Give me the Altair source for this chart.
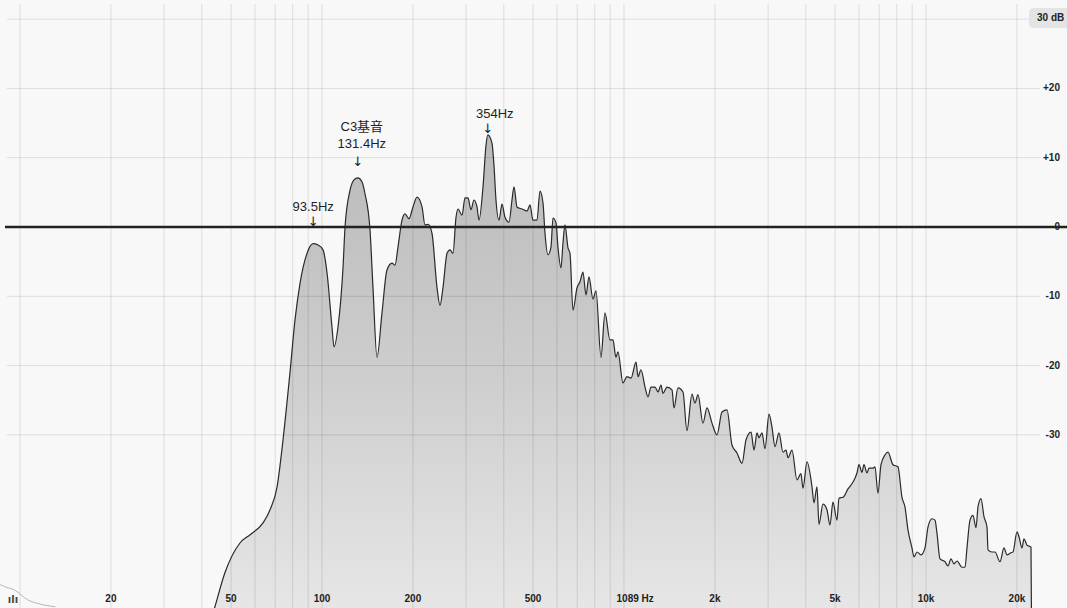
import altair as alt
import pandas as pd

# ---- spectrum trace: frequency (Hz) and level (dB) ----
freq_hz = [
    42.0, 44.2, 47.7, 53.5, 57.8, 63.8, 67.3, 71.0, 74.3, 78.3, 81.4, 84.6, 89.2,
    93.5, 97.0, 100.8, 103.9, 107.9, 109.6, 113.0, 117.4, 119.2, 123.8, 127.6,
    131.4, 135.7, 138.8, 144.2, 147.5, 152.1, 158.0, 164.1, 170.5, 174.5, 178.5,
    184.0, 188.3, 194.1, 200.1, 206.3, 214.4, 219.3, 224.4, 231.3, 240.3, 245.9,
    251.6, 259.4, 265.4, 271.5, 277.8, 282.1, 290.8, 297.5, 304.4, 311.4, 318.6,
    326.0, 331.1, 341.3, 349.2, 354.0, 365.5, 371.1, 376.8, 385.6, 394.5, 403.6,
    416.1, 425.7, 432.3, 442.3, 459.5, 477.3, 488.3, 499.6, 515.1, 527.0, 539.2,
    547.5, 560.2, 573.1, 581.9, 595.4, 604.5, 618.5, 628.0, 637.7, 652.4, 662.5,
    677.8, 698.7, 714.9, 731.4, 748.4, 765.7, 789.4, 807.7, 839.0, 865.0, 898.5,
    919.3, 940.5, 955.0, 992.3, 1023, 1055, 1096, 1113, 1138, 1174, 1201, 1229,
    1267, 1296, 1326, 1346, 1388, 1442, 1464, 1509, 1568, 1616, 1679, 1718, 1758,
    1826, 1883, 1956, 2032, 2111, 2193, 2279, 2367, 2459, 2536, 2634, 2695, 2757,
    2799, 2864, 2930, 3021, 3091, 3162, 3260, 3361, 3439, 3491, 3600, 3739, 3855,
    3914, 4036, 4193, 4257, 4355, 4422, 4559, 4700, 4809, 4920, 5073, 5151, 5311,
    5517, 5731, 5908, 5999, 6138, 6232, 6376, 6474, 6674, 6777, 6934, 7095, 7314,
    7483, 7774, 8076, 8326, 8519, 8716, 8986, 9124, 9338, 9626, 9924, 10153,
    10469, 10711, 10874, 11126, 11558, 11825, 12100, 12380, 12666, 13158, 13462,
    13670, 13986, 14309, 14641, 14866, 15209, 15562, 15922, 16044, 16539, 16922,
    17579, 18124, 18543, 19118, 19411, 20012, 20320, 20789, 21108, 21595, 22264,
    22400,
]
level_db = [
    -58.0, -54.8, -49.9, -45.6, -44.4, -42.7, -40.8, -37.5, -30.7, -21.1, -13.4, -8.1, -3.8,
    -2.4, -2.6, -3.3, -6.6, -14.4, -17.3, -14.4, -5.8, 0.0, 5.3, 6.8,
    7.1, 6.5, 4.8, -0.4, -8.7, -18.8, -12.4, -6.2, -5.2, -5.5, -2.9,
    1.0, 1.9, 1.2, 2.9, 4.3, 2.9, 0.3, 0.4, -0.9, -8.7, -11.3,
    -8.7, -3.8, -3.3, -3.8, 1.4, 2.6, 1.7, 4.2, 4.2, 2.5, 3.9,
    2.9, 1.0, 5.8, 11.8, 13.3, 12.1, 8.9, 3.9, 1.0, 3.3, 1.4,
    0.7, 3.9, 5.8, 2.9, 2.6, 2.3, 3.2, 1.0, 1.0, 5.2, 3.5,
    -0.9, -4.0, -2.9, 1.3, 0.6, -2.9, -5.9, -2.3, 0.3, -3.0, -3.8,
    -12.0, -8.8, -7.9, -6.5, -9.8, -7.2, -10.4, -9.2, -18.8, -12.4, -16.3,
    -16.3, -18.8, -18.0, -22.5, -21.6, -21.8, -19.5, -21.6, -20.6, -23.1, -24.5, -23.1,
    -23.1, -23.8, -22.8, -24.0, -23.1, -23.5, -26.1, -23.2, -23.8, -29.4, -24.1, -25.4, -24.2,
    -28.3, -26.1, -28.3, -30.0, -26.7, -26.4, -31.5, -32.6, -34.1, -30.7, -29.6, -32.2, -29.7,
    -30.4, -29.7, -32.0, -27.0, -28.9, -31.7, -29.7, -32.5, -32.2, -33.3, -32.2, -36.5, -35.6,
    -37.7, -33.9, -37.5, -39.8, -37.5, -42.9, -40.0, -40.8, -43.0, -39.7, -42.3, -39.1, -39.0,
    -37.8, -36.8, -35.5, -34.3, -35.4, -34.3, -35.5, -34.8, -34.8, -34.6, -38.4, -34.3, -32.9,
    -32.5, -34.3, -34.6, -39.0, -40.4, -43.7, -46.3, -47.6, -46.9, -47.3, -46.3, -43.3,
    -42.1, -42.3, -44.2, -47.9, -48.3, -48.9, -47.9, -48.6, -48.2, -49.1, -49.1,
    -46.3, -42.3, -41.6, -43.4, -40.4, -39.2, -41.8, -43.3, -46.6, -46.9, -46.9,
    -48.3, -46.3, -47.3, -47.0, -46.9, -44.0, -44.7, -46.3, -45.0, -45.9, -46.2,
    -62.0,
]

# faint sub-bass trace in the lower-left corner
sub_freq_hz = [8.6, 8.9, 9.6, 10.6, 11.4, 13.1]
sub_level_db = [-51.6, -51.9, -52.4, -53.8, -54.3, -54.8]

# grid and tick labels
grid_freq_hz = [10, 20, 30, 40, 50, 60, 70, 80, 90,
                100, 200, 300, 400, 500, 600, 700, 800, 900,
                1000, 2000, 3000, 4000, 5000, 6000, 7000, 8000, 9000,
                10000, 20000]
grid_db = [30, 20, 10, -10, -20, -30]
freq_tick_hz = [20, 50, 100, 200, 500, 1089, 2000, 5000, 10000, 20000]
freq_tick_text = ["20", "50", "100", "200", "500", "1089 Hz", "2k", "5k", "10k", "20k"]
db_tick = [20, 10, 0, -10, -20, -30]
db_tick_text = ["+20", "+10", "0", "-10", "-20", "-30"]

# peak annotations
peak_hz = [93.5, 131.4, 354.0]
arrow_db = [0.7, 9.4, 14.1]
note_hz = [93.5, 131.4, 131.4, 354.0]
note_db = [2.9, 14.4, 12.0, 16.3]
note_text = ["93.5Hz", "C3基音", "131.4Hz", "354Hz"]
note_shift = [0, 4, 4, 7]

W, H = 1067, 608
DB_MIN, DB_MAX = -54.98, 32.76
X = alt.Scale(type="log", domain=[8.586, 29302], nice=False)
Y = alt.Scale(domain=[DB_MIN, DB_MAX], nice=False, zero=False)

spec = pd.DataFrame({"f": freq_hz, "db": level_db})
spec["floor"] = DB_MIN
sub = pd.DataFrame({"f": sub_freq_hz, "db": sub_level_db})

LABEL_FONT = "Liberation Sans"
NOTE_FONT = "Liberation Sans, Noto Sans CJK SC"
LABEL_COLOR = "#222222"

fill = alt.Gradient(
    gradient="linear",
    stops=[alt.GradientStop(color="#bababa", offset=0),
           alt.GradientStop(color="#cdcdcd", offset=0.45),
           alt.GradientStop(color="#ebebeb", offset=1)],
    x1=0, x2=0, y1=0, y2=1,
)

area = alt.Chart(spec).mark_area(interpolate="monotone", clip=True, color=fill).encode(
    x=alt.X("f:Q", scale=X, axis=None),
    y=alt.Y("db:Q", scale=Y, axis=None),
    y2="floor:Q",
)

vgrid = alt.Chart(pd.DataFrame({"f": grid_freq_hz})).mark_rule(
    color="black", opacity=0.11, strokeWidth=1
).encode(x=alt.X("f:Q", scale=X, axis=None), y=alt.value(4), y2=alt.value(H))

hgrid = alt.Chart(pd.DataFrame({"db": grid_db})).mark_rule(
    color="black", opacity=0.11, strokeWidth=1
).encode(y=alt.Y("db:Q", scale=Y, axis=None), x=alt.value(7), x2=alt.value(1040))

trace = alt.Chart(spec).mark_line(
    interpolate="monotone", clip=True, color="#2a2a2a", strokeWidth=1.2
).encode(x=alt.X("f:Q", scale=X, axis=None), y=alt.Y("db:Q", scale=Y, axis=None))

sub_trace = alt.Chart(sub).mark_line(
    interpolate="monotone", clip=True, color="#b5b5b5", strokeWidth=1
).encode(x=alt.X("f:Q", scale=X, axis=None), y=alt.Y("db:Q", scale=Y, axis=None))

zero_line = alt.Chart(pd.DataFrame({"db": [0]})).mark_rule(
    color="#222222", strokeWidth=2.6
).encode(y=alt.Y("db:Q", scale=Y, axis=None), x=alt.value(5), x2=alt.value(W))

freq_labels = alt.Chart(pd.DataFrame({"f": freq_tick_hz, "t": freq_tick_text})).mark_text(
    font=LABEL_FONT, fontSize=10, fontWeight="bold", color=LABEL_COLOR, baseline="middle"
).encode(x=alt.X("f:Q", scale=X, axis=None), y=alt.value(599), text="t:N")

db_labels = alt.Chart(pd.DataFrame({"db": db_tick, "t": db_tick_text})).mark_text(
    font=LABEL_FONT, fontSize=10, fontWeight="bold", color=LABEL_COLOR,
    baseline="middle", align="right"
).encode(y=alt.Y("db:Q", scale=Y, axis=None), x=alt.value(1060), text="t:N")

range_badge = alt.Chart(pd.DataFrame({"t": ["30 dB"]})).mark_rect(
    color="#e4e4e4", cornerRadius=4
).encode(x=alt.value(1029), x2=alt.value(W + 6), y=alt.value(8), y2=alt.value(28))

range_text = alt.Chart(pd.DataFrame({"t": ["30 dB"]})).mark_text(
    font=LABEL_FONT, fontSize=10, fontWeight="bold", color=LABEL_COLOR,
    align="left", baseline="middle"
).encode(x=alt.value(1037), y=alt.value(18), text="t:N")

icon = alt.Chart(pd.DataFrame({"t": ["ılı"]})).mark_text(
    font="DejaVu Sans", fontSize=10, fontWeight="bold", color="#444444", baseline="middle"
).encode(x=alt.value(13), y=alt.value(600), text="t:N")

arrows = alt.Chart(pd.DataFrame({"f": peak_hz, "db": arrow_db})).mark_text(
    text="↓", font="DejaVu Sans", fontSize=13, color="#222222", baseline="middle"
).encode(x=alt.X("f:Q", scale=X, axis=None), y=alt.Y("db:Q", scale=Y, axis=None))

note_df = pd.DataFrame({"f": note_hz, "db": note_db, "t": note_text, "s": note_shift})
notes = []
for shift in sorted(set(note_shift)):
    notes.append(
        alt.Chart(note_df[note_df["s"] == shift]).mark_text(
            font=NOTE_FONT, fontSize=13, color="#1f1f1f", baseline="middle", dx=shift
        ).encode(x=alt.X("f:Q", scale=X, axis=None),
                 y=alt.Y("db:Q", scale=Y, axis=None), text="t:N")
    )

chart = alt.layer(
    area, vgrid, hgrid, trace, sub_trace, zero_line,
    freq_labels, db_labels, range_badge, range_text, icon, arrows, *notes,
).properties(
    width=W, height=H, padding=0, autosize="none", background="#f8f8f8"
).configure_view(stroke=None, fill="#f8f8f8")

chart.save("out.html", embed_options={"renderer": "svg", "actions": False})
